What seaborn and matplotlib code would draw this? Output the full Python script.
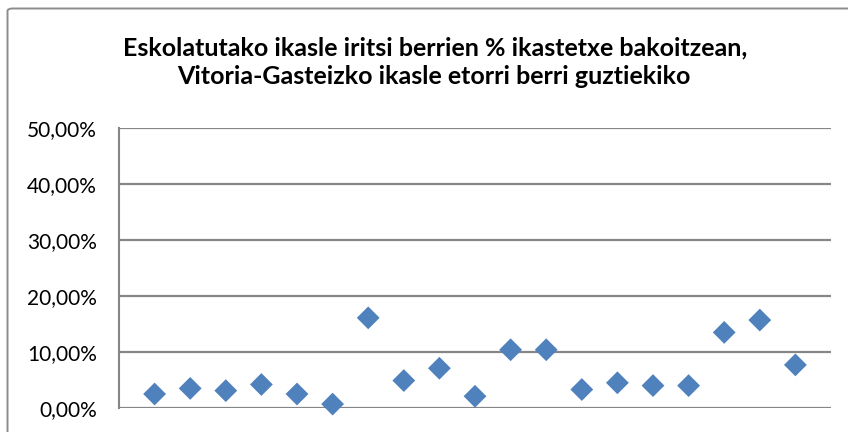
import matplotlib
matplotlib.use("Agg")
import matplotlib.pyplot as plt
from matplotlib.patches import FancyBboxPatch
from matplotlib.ticker import FuncFormatter
import seaborn as sns
import pandas as pd

# One value per school (share of newly arrived pupils, in %)
schools = list(range(1, 20))
shares = [2.5, 3.5, 3.1, 4.2, 2.5, 0.7, 16.1, 4.9, 7.1, 2.1,
          10.4, 10.4, 3.3, 4.5, 4.0, 4.0, 13.5, 15.7, 7.7]
y_ticks = [0, 10, 20, 30, 40, 50]
title_lines = ["Eskolatutako ikasle iritsi berrien % ikastetxe bakoitzean,",
               "Vitoria-Gasteizko ikasle etorri berri guztiekiko"]

df = pd.DataFrame({"school": schools, "share": shares})

sns.set_theme(style="white")
plt.rcParams["font.family"] = ["Lato", "DejaVu Sans"]

W, H = 848, 432
fig = plt.figure(figsize=(W / 100, H / 100), dpi=100)
fig.patch.set_facecolor("white")

# chart frame (only top and left edges fall inside the canvas)
frame = FancyBboxPatch((7.5 / W, -0.2), 1.2, 1.2 - 8.5 / H,
                       boxstyle="round,pad=0,rounding_size=0.006",
                       transform=fig.transFigure, fill=False,
                       edgecolor="#8c8c8c", linewidth=1.4, zorder=0)
fig.patches.append(frame)

ax = fig.add_axes([119 / W, 1 - 408 / H, (831 - 119) / W, (408 - 128) / H])
sns.scatterplot(data=df, x="school", y="share", marker="D", s=135,
                color="#4F81BD", edgecolor="none", linewidth=0, ax=ax,
                zorder=3, clip_on=False)

ax.set_xlim(0, 20)
ax.set_ylim(0, 50)
ax.set_yticks(y_ticks)
ax.yaxis.set_major_formatter(FuncFormatter(lambda v, _: f"{v:.2f}".replace(".", ",") + "%"))
ax.set_xticks([])
ax.set_xlabel("")
ax.set_ylabel("")
ax.grid(axis="y", color="#868686", linewidth=1.6)
ax.set_axisbelow(True)
for side in ["top", "right", "bottom"]:
    ax.spines[side].set_visible(False)
ax.spines["left"].set_color("#868686")
ax.spines["left"].set_linewidth(1.5)
ax.tick_params(axis="y", length=0, pad=16, labelsize=15, labelcolor="black")

fig.text(435 / W, 1 - 48 / H, title_lines[0], ha="center", va="center",
         fontsize=18, fontweight="bold", color="black")
fig.text(434 / W, 1 - 76 / H, title_lines[1], ha="center", va="center",
         fontsize=18, fontweight="bold", color="black")

fig.savefig("out.png", dpi=100)
